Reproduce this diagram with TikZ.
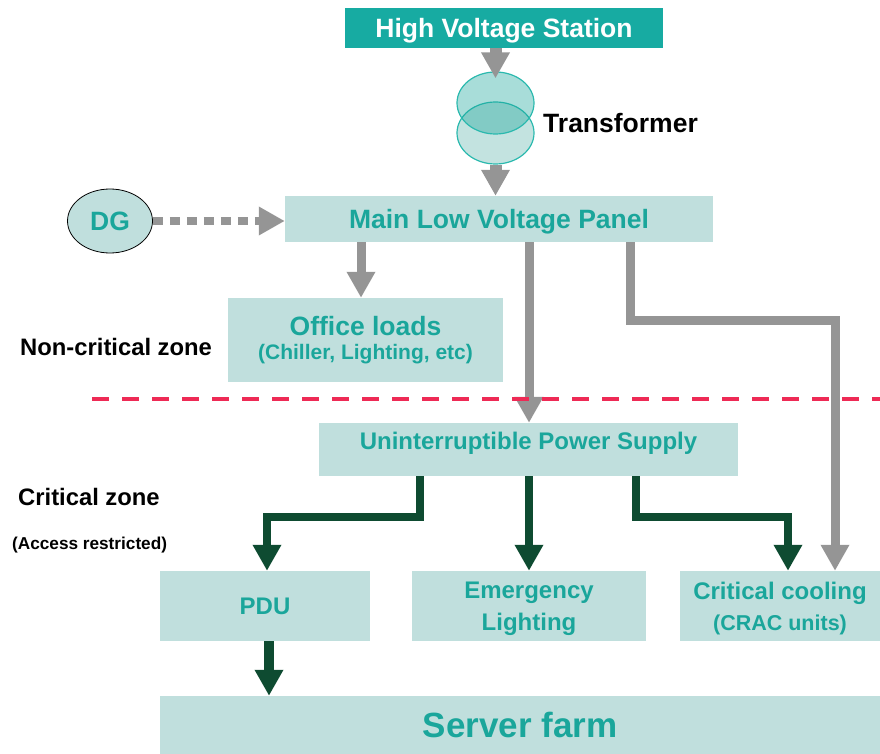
\documentclass[tikz,border=0pt]{standalone}
\usepackage{xcolor}
\usepackage{fontspec}
\setmainfont{Liberation Sans}
\usepackage{tikz}
\usetikzlibrary{arrows.meta,shapes.geometric}
\definecolor{boxfill}{HTML}{C0DFDD}
\definecolor{tealtext}{HTML}{1AA69B}
\definecolor{hvfill}{HTML}{17ABA2}
\definecolor{arrgray}{HTML}{959595}
\definecolor{arrgreen}{HTML}{0E4B31}
\definecolor{zonered}{HTML}{EE2A55}
\definecolor{tfline}{HTML}{2AB9AE}
\definecolor{tffill}{HTML}{C3E3E0}
\tikzset{
  box/.style={fill=boxfill,inner sep=0pt,text=tealtext,align=center},
  grayarrow/.style={draw=arrgray,line width=9pt,-{Triangle[length=26pt,width=27pt]}},
  greenarrow/.style={draw=arrgreen,line width=8pt,-{Triangle[length=26pt,width=27pt]}},
  zonetext/.style={anchor=west,inner sep=0pt}
}
\newcommand{\fs}[1]{\fontsize{#1}{#1}\selectfont\bfseries}
\begin{document}
\begin{tikzpicture}[x=1pt,y=-1pt]
\useasboundingbox (0,0) rectangle (880,754);
%boxes
\node[box,fill=hvfill,text=white,text depth=0pt,minimum width=318pt,minimum height=40pt,font=\fs{26.5}] (hv) at (504,28) {High Voltage Station};
\node[box,text depth=0pt,minimum width=428pt,minimum height=46pt,font=\fs{26.5}] (main) at (499,219) {Main Low Voltage Panel};
\node[box,minimum width=275pt,minimum height=84pt] (office) at (365.5,340) {\fs{26.5}Office loads\\[8pt]\fs{21}(Chiller, Lighting, etc)};
\node[box,minimum width=419pt,minimum height=53pt] (ups) at (528.5,449.5) {};
\node[text=tealtext,inner sep=0pt,font=\fs{24}] (upsText) at (528.5,443) {Uninterruptible Power Supply};
\node[box,minimum width=210pt,minimum height=70pt,font=\fs{24}] (pdu) at (265,606) {PDU};
\node[box,text depth=0pt,minimum width=234pt,minimum height=70pt,font=\fs{24}] (emerg) at (529,606) {Emergency\\[8pt]Lighting};
\node[box,text depth=0pt,minimum width=200pt,minimum height=70pt] (cool) at (780,606) {\fs{24}Critical cooling\\[9pt]\fs{21.5}(CRAC units)};
\node[box,minimum width=720pt,minimum height=58pt,font=\fs{35}] (farm) at (520,725) {Server farm};
%DG
\node[ellipse,draw=black,line width=0.8pt,fill=boxfill,minimum width=85pt,minimum height=64pt,inner sep=0pt,text=tealtext,font=\fs{26.5}] (dg) at (110,221) {DG};
%Transformer
\node[ellipse,draw=tfline,line width=1.2pt,fill=tffill,minimum width=77pt,minimum height=62pt,inner sep=0pt] (tfBot) at (495.5,133) {};
\node[ellipse,draw=tfline,line width=1.2pt,fill=tealtext,fill opacity=0.38,minimum width=77pt,minimum height=62pt,inner sep=0pt] (tfTop) at (495.5,103) {};
\node[zonetext,font=\fs{26.5}] (tfLabel) at (543,123) {Transformer};
%Arrows
\draw[grayarrow,line width=12pt] (hv.south -| tfTop.north) -- ([yshift=-7pt]tfTop.north);
\draw[grayarrow,line width=12pt] (tfBot.south) -- (tfBot.south |- main.north);
\draw[grayarrow,line width=8pt,dash pattern=on 10pt off 7pt] (dg.east) -- (dg.east -| main.west);
\draw[grayarrow] ([xshift=-138pt]main.south) -- ([xshift=-4.5pt]office.north);
\draw[grayarrow] ([xshift=30pt]main.south) -- ([xshift=0.5pt]ups.north);
\draw[grayarrow] ([xshift=131.5pt]main.south) -- ++(0,78) -| ([xshift=55pt]cool.north);
\draw[greenarrow] ([xshift=-108.5pt]ups.south) -- ++(0,40.5) -| ([xshift=2pt]pdu.north);
\draw[greenarrow] ([xshift=0.5pt]ups.south) -- (emerg.north);
\draw[greenarrow] ([xshift=107pt]ups.south) -- ++(0,40.5) -| ([xshift=8pt]cool.north);
\draw[greenarrow,line width=10pt] ([xshift=4pt]pdu.south) -- ([xshift=4pt]pdu.south |- farm.north);
%zones
\draw[zonered,line width=4.5pt,dash pattern=on 17pt off 13pt] (92,399) -- (880,399);
\node[zonetext,font=\fs{23.8}] (ncz) at (20,347) {Non-critical zone};
\node[zonetext,font=\fs{23.8}] (cz) at (18,497) {Critical zone};
\node[zonetext,font=\fs{17.2}] (acc) at (12,545) {(Access restricted)};
\end{tikzpicture}
\end{document}
